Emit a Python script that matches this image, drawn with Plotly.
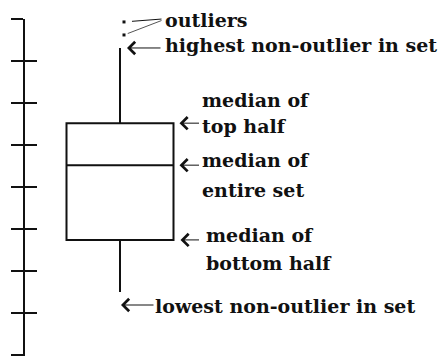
import plotly.graph_objects as go

# box statistics, in scale units (ticks 0..8)
lower_fence = [1.5]
q1 = [2.74]
median = [4.52]
q3 = [5.52]
upper_fence = [7.31]
outliers = [7.93, 7.62]
scale_ticks = [0, 1, 2, 3, 4, 5, 6, 7, 8]

W, H = 445, 356
BOX_X = 120
BOX_W = 107
FONT = dict(family="DejaVu Serif", size=19, color="#111111")


def py(pix):
    """pixel row (from top) -> scale value"""
    return (355 - pix) / 42.0


fig = go.Figure()

fig.add_trace(go.Box(
    x=[BOX_X],
    q1=q1, median=median, q3=q3,
    lowerfence=lower_fence, upperfence=upper_fence,
    width=BOX_W, whiskerwidth=0,
    line=dict(color="#111111", width=2),
    fillcolor="rgba(255,255,255,0)",
    boxpoints=False, showlegend=False, hoverinfo="skip",
))

fig.add_trace(go.Scatter(
    x=[BOX_X + 4] * len(outliers), y=outliers,
    mode="markers", cliponaxis=False,
    marker=dict(color="#111111", size=3, symbol="square"),
    showlegend=False, hoverinfo="skip",
))

# invisible trace keeps the second (cross-tick) axis alive
fig.add_trace(go.Scatter(x=[None], y=[None], yaxis="y2", showlegend=False))


def arrow(x, y, length, yshift=0):
    fig.add_annotation(x=x, y=y, ax=length, ay=0, text="", showarrow=True,
                       arrowhead=4, arrowsize=2.4, arrowwidth=1, arrowcolor="#111111",
                       yshift=yshift)


def label(x, pix, txt):
    fig.add_annotation(x=x, y=py(pix), text="<b>%s</b>" % txt, showarrow=False,
                       xanchor="left", yanchor="middle", font=FONT)


# outlier connector lines
fig.add_annotation(x=BOX_X + 4, y=outliers[0], ax=39, ay=-3, text="", showarrow=True,
                   arrowhead=0, arrowwidth=1, arrowcolor="#111111", standoff=8)
fig.add_annotation(x=BOX_X + 4, y=outliers[1], ax=39, ay=-15, text="", showarrow=True,
                   arrowhead=0, arrowwidth=1, arrowcolor="#555555", standoff=4)

arrow(BOX_X + 7, upper_fence[0], 35)
arrow(BOX_X + BOX_W / 2 + 6, q3[0], 21)
arrow(BOX_X + BOX_W / 2 + 6, median[0], 21)
arrow(BOX_X + BOX_W / 2 + 7, q1[0], 20)
arrow(BOX_X + 1, lower_fence[0], 34, yshift=-13)

label(163, 20, "outliers")
label(163, 45, "highest non-outlier in set")
label(200, 100, "median of")
label(200, 126, "top half")
label(200, 160, "median of")
label(200, 190, "entire set")
label(204, 235, "median of")
label(204, 263, "bottom half")
label(153, 306, "lowest non-outlier in set")

yrange = [-1 / 42.0, 8]
fig.update_layout(
    width=W, height=H,
    margin=dict(l=0, r=0, t=0, b=0, autoexpand=False),
    paper_bgcolor="white", plot_bgcolor="white",
    xaxis=dict(range=[0, W], visible=False, fixedrange=True, automargin=False),
    yaxis=dict(range=yrange, domain=[0, (H - 19) / H], anchor="free", position=24 / W,
               tickvals=scale_ticks, ticks="outside", ticklen=12, tickwidth=2,
               tickcolor="#111111", showline=True, linewidth=2, linecolor="#111111",
               showticklabels=False, showgrid=False, zeroline=False, automargin=False,
               fixedrange=True),
    yaxis2=dict(range=yrange, overlaying="y", anchor="free", position=24 / W,
                tickvals=scale_ticks, ticks="inside", ticklen=12, tickwidth=2,
                tickcolor="#111111", showline=False, showticklabels=False,
                showgrid=False, zeroline=False, automargin=False, fixedrange=True),
    showlegend=False,
)

# drop the browser's default 8px body margin so the figure sits at (0, 0)
fig.write_html("out.html", config={"displayModeBar": False},
               post_script="document.body.style.margin='0';")
